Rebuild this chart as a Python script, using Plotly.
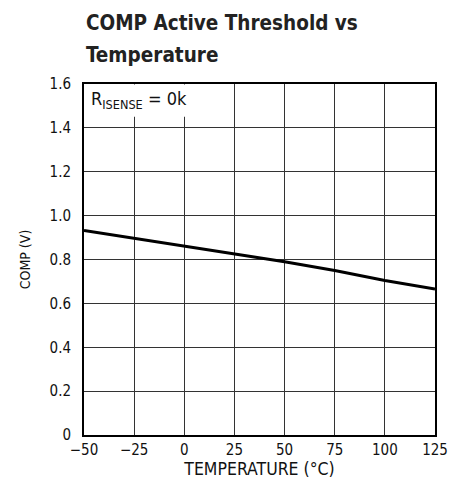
import plotly.graph_objects as go

temperature = [-50, -25, 0, 25, 50, 75, 100, 125]
comp_v = [0.932, 0.897, 0.859, 0.826, 0.790, 0.750, 0.704, 0.666]

x_ticks = [-50, -25, 0, 25, 50, 75, 100, 125]
x_tick_text = ["\u221250", "\u221225", "0", "25", "50", "75", "100", "125"]
y_ticks = [0, 0.2, 0.4, 0.6, 0.8, 1.0, 1.2, 1.4, 1.6]
y_tick_text = ["0", "0.2", "0.4", "0.6", "0.8", "1.0", "1.2", "1.4", "1.6"]

FONT = "DejaVu Sans Condensed, Roboto, Arial, sans-serif"

fig = go.Figure()
fig.add_trace(go.Scatter(x=temperature, y=comp_v, mode="lines",
                         line=dict(color="black", width=3), showlegend=False))

fig.add_shape(type="rect", xref="x", yref="y", x0=-49.6, x1=1.2, y0=1.451, y1=1.598,
              fillcolor="white", line=dict(width=0), layer="between")

fig.add_annotation(x=-47.4, y=1.527, xref="x", yref="y", xanchor="left", yanchor="middle",
                   text="R<sub>ISENSE</sub> = 0k", showarrow=False,
                   font=dict(family=FONT, size=18, color="#111"))

fig.add_annotation(x=0.0, y=1.174, xref="paper", yref="paper",
                   xanchor="left", yanchor="middle", align="left",
                   text="<b>COMP Active Threshold vs</b>", showarrow=False,
                   font=dict(family=FONT, size=20.5, color="#222"))
fig.add_annotation(x=0.0, y=1.084, xref="paper", yref="paper",
                   xanchor="left", yanchor="middle", align="left",
                   text="<b>Temperature</b>", showarrow=False,
                   font=dict(family=FONT, size=20.5, color="#222"))

fig.update_layout(
    width=467, height=491,
    margin=dict(l=76, r=40, t=76, b=64, autoexpand=False),
    paper_bgcolor="white", plot_bgcolor="white",
    font=dict(family=FONT, color="#111"),
    xaxis=dict(range=[-50, 125], tickvals=x_ticks, ticktext=x_tick_text,
               showgrid=True, gridcolor="#333", gridwidth=1, automargin=False,
               showline=True, linecolor="black", linewidth=2, mirror=True,
               zeroline=False, ticks="", tickfont=dict(size=15),
               title=dict(text="TEMPERATURE (\u00b0C)", font=dict(size=17.5), standoff=0)),
    yaxis=dict(range=[0, 1.6], tickvals=y_ticks, ticktext=y_tick_text,
               showgrid=True, gridcolor="#333", gridwidth=1, automargin=False,
               showline=True, linecolor="black", linewidth=2, mirror=True,
               zeroline=False, ticks="", tickfont=dict(size=15), ticklabelstandoff=8,
               title=dict(text="COMP (V)", font=dict(size=14), standoff=16)),
)

fig.write_html("out.html")
